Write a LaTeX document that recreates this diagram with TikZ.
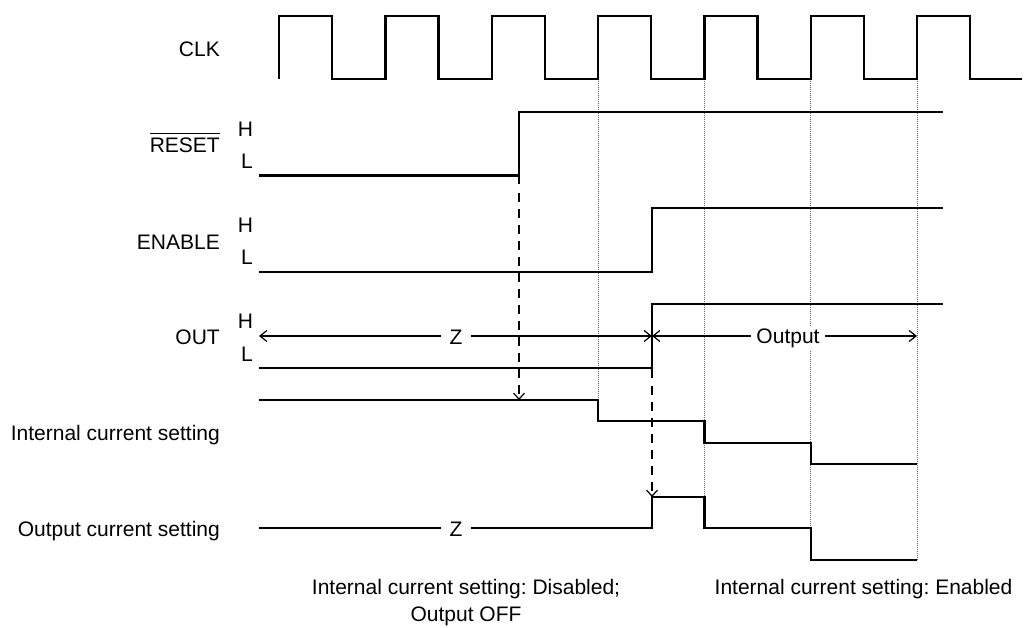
\documentclass[tikz,border=0pt]{standalone}
\usepackage{fontspec}
\setmainfont{Liberation Sans}
\usetikzlibrary{arrows.meta}
\frenchspacing
\begin{document}
\begin{tikzpicture}[x=1pt,y=-1pt,
  sig/.style={line width=2.4pt,line join=miter},
  grid/.style={line width=1pt,gray!80!black,dash pattern=on 1pt off 1pt},
  dashar/.style={line width=2.4pt,dash pattern=on 9pt off 7pt,-{Straight Barb[length=6pt,width=11pt,line width=1.2pt]}},
  dimar/.style={line width=2.4pt,{Straight Barb[length=7pt,width=11pt,line width=1.2pt]}-{Straight Barb[length=7pt,width=11pt,line width=1.2pt]}},
  lbl/.style={inner sep=0pt,font=\fontsize{21}{25}\selectfont},
  gap/.style={lbl,fill=white,inner xsep=9pt,inner ysep=2pt}]
\useasboundingbox (0,0) rectangle (1027,628);
% grid lines
\foreach \x/\y in {598/421, 704.3/528, 810.7/560, 917/560}
  \draw[grid] (\x,79) -- (\x,\y);
% labels
\node[lbl,anchor=base east] (clk) at (220,56.5) {CLK};
\node[lbl,anchor=base east] (rst) at (220,152.5) {RESET};
\draw[line width=1.4pt] ([yshift=4pt]rst.north west) -- ([yshift=4pt]rst.north east);
\node[lbl,anchor=base] (rh) at (245.5,137) {H};
\node[lbl,anchor=base] (rl) at (247,168.5) {L};
\node[lbl,anchor=base east] (en) at (220,249) {ENABLE};
\node[lbl,anchor=base] (eh) at (245.5,232.3) {H};
\node[lbl,anchor=base] (el) at (247,265) {L};
\node[lbl,anchor=base east] (out) at (220,344.3) {OUT};
\node[lbl,anchor=base] (oh) at (245.5,328.3) {H};
\node[lbl,anchor=base] (ol) at (247,361.7) {L};
\node[lbl,anchor=base east] (ics) at (220,440.7) {Internal current setting};
\node[lbl,anchor=base east] (ocs) at (220,536.7) {Output current setting};
% CLK
\draw[sig] (279,79) -- (279,16) -- (332.2,16) -- (332.2,79) -- (385.3,79) -- (385.3,16) -- (438.5,16) -- (438.5,79)
  -- (491.7,79) -- (491.7,16) -- (544.9,16) -- (544.9,79) -- (598,79) -- (598,16) -- (651.2,16) -- (651.2,79)
  -- (704.3,79) -- (704.3,16) -- (757.5,16) -- (757.5,79) -- (810.7,79) -- (810.7,16) -- (863.9,16) -- (863.9,79)
  -- (917,79) -- (917,16) -- (970.2,16) -- (970.2,79) -- (1022,79);
% RESET
\draw[sig] (259,175.7) -- (519,175.7);
\draw[sig] (519,184) -- (519,112) -- (943,112);
\coordinate (ra) at (519,193);
\coordinate (rb) at (519,400);
\draw[dashar] (ra) -- (rb);
% ENABLE
\draw[sig] (259,272) -- (652,272) -- (652,208) -- (943,208);
% OUT
\draw[sig] (259,368) -- (652,368);
\draw[sig] (652,378) -- (652,304) -- (943,304);
\coordinate (oa) at (652,386);
\coordinate (ob) at (652,497);
\draw[dashar] (oa) -- (ob);
\coordinate (z1) at (259,336);
\coordinate (z2) at (652,336);
\coordinate (z3) at (917,336);
\draw[dimar] (z1) -- (z2);
\draw[dimar] (z2) -- (z3);
\node[gap,anchor=base] (zout) at (456,344.3) {Z};
\node[gap,anchor=base,inner xsep=5pt] (outp) at (788,343.3) {Output};
% Internal current setting
\draw[sig] (259,400) -- (598,400) -- (598,421) -- (704.3,421) -- (704.3,443) -- (810.7,443) -- (810.7,464) -- (917,464);
% Output current setting
\draw[sig] (259,528) -- (652,528) -- (652,497) -- (704.3,497) -- (704.3,528) -- (810.7,528) -- (810.7,560) -- (917,560);
\node[gap,anchor=base] (zocs) at (456,536.7) {Z};
% bottom texts
\node[lbl,anchor=base] (b1) at (466,594.3) {Internal current setting: Disabled;};
\node[lbl,anchor=base] (b2) at (466,621.7) {Output OFF};
\node[lbl,anchor=base] (b3) at (863.5,594.3) {Internal current setting: Enabled};
\end{tikzpicture}
\end{document}
